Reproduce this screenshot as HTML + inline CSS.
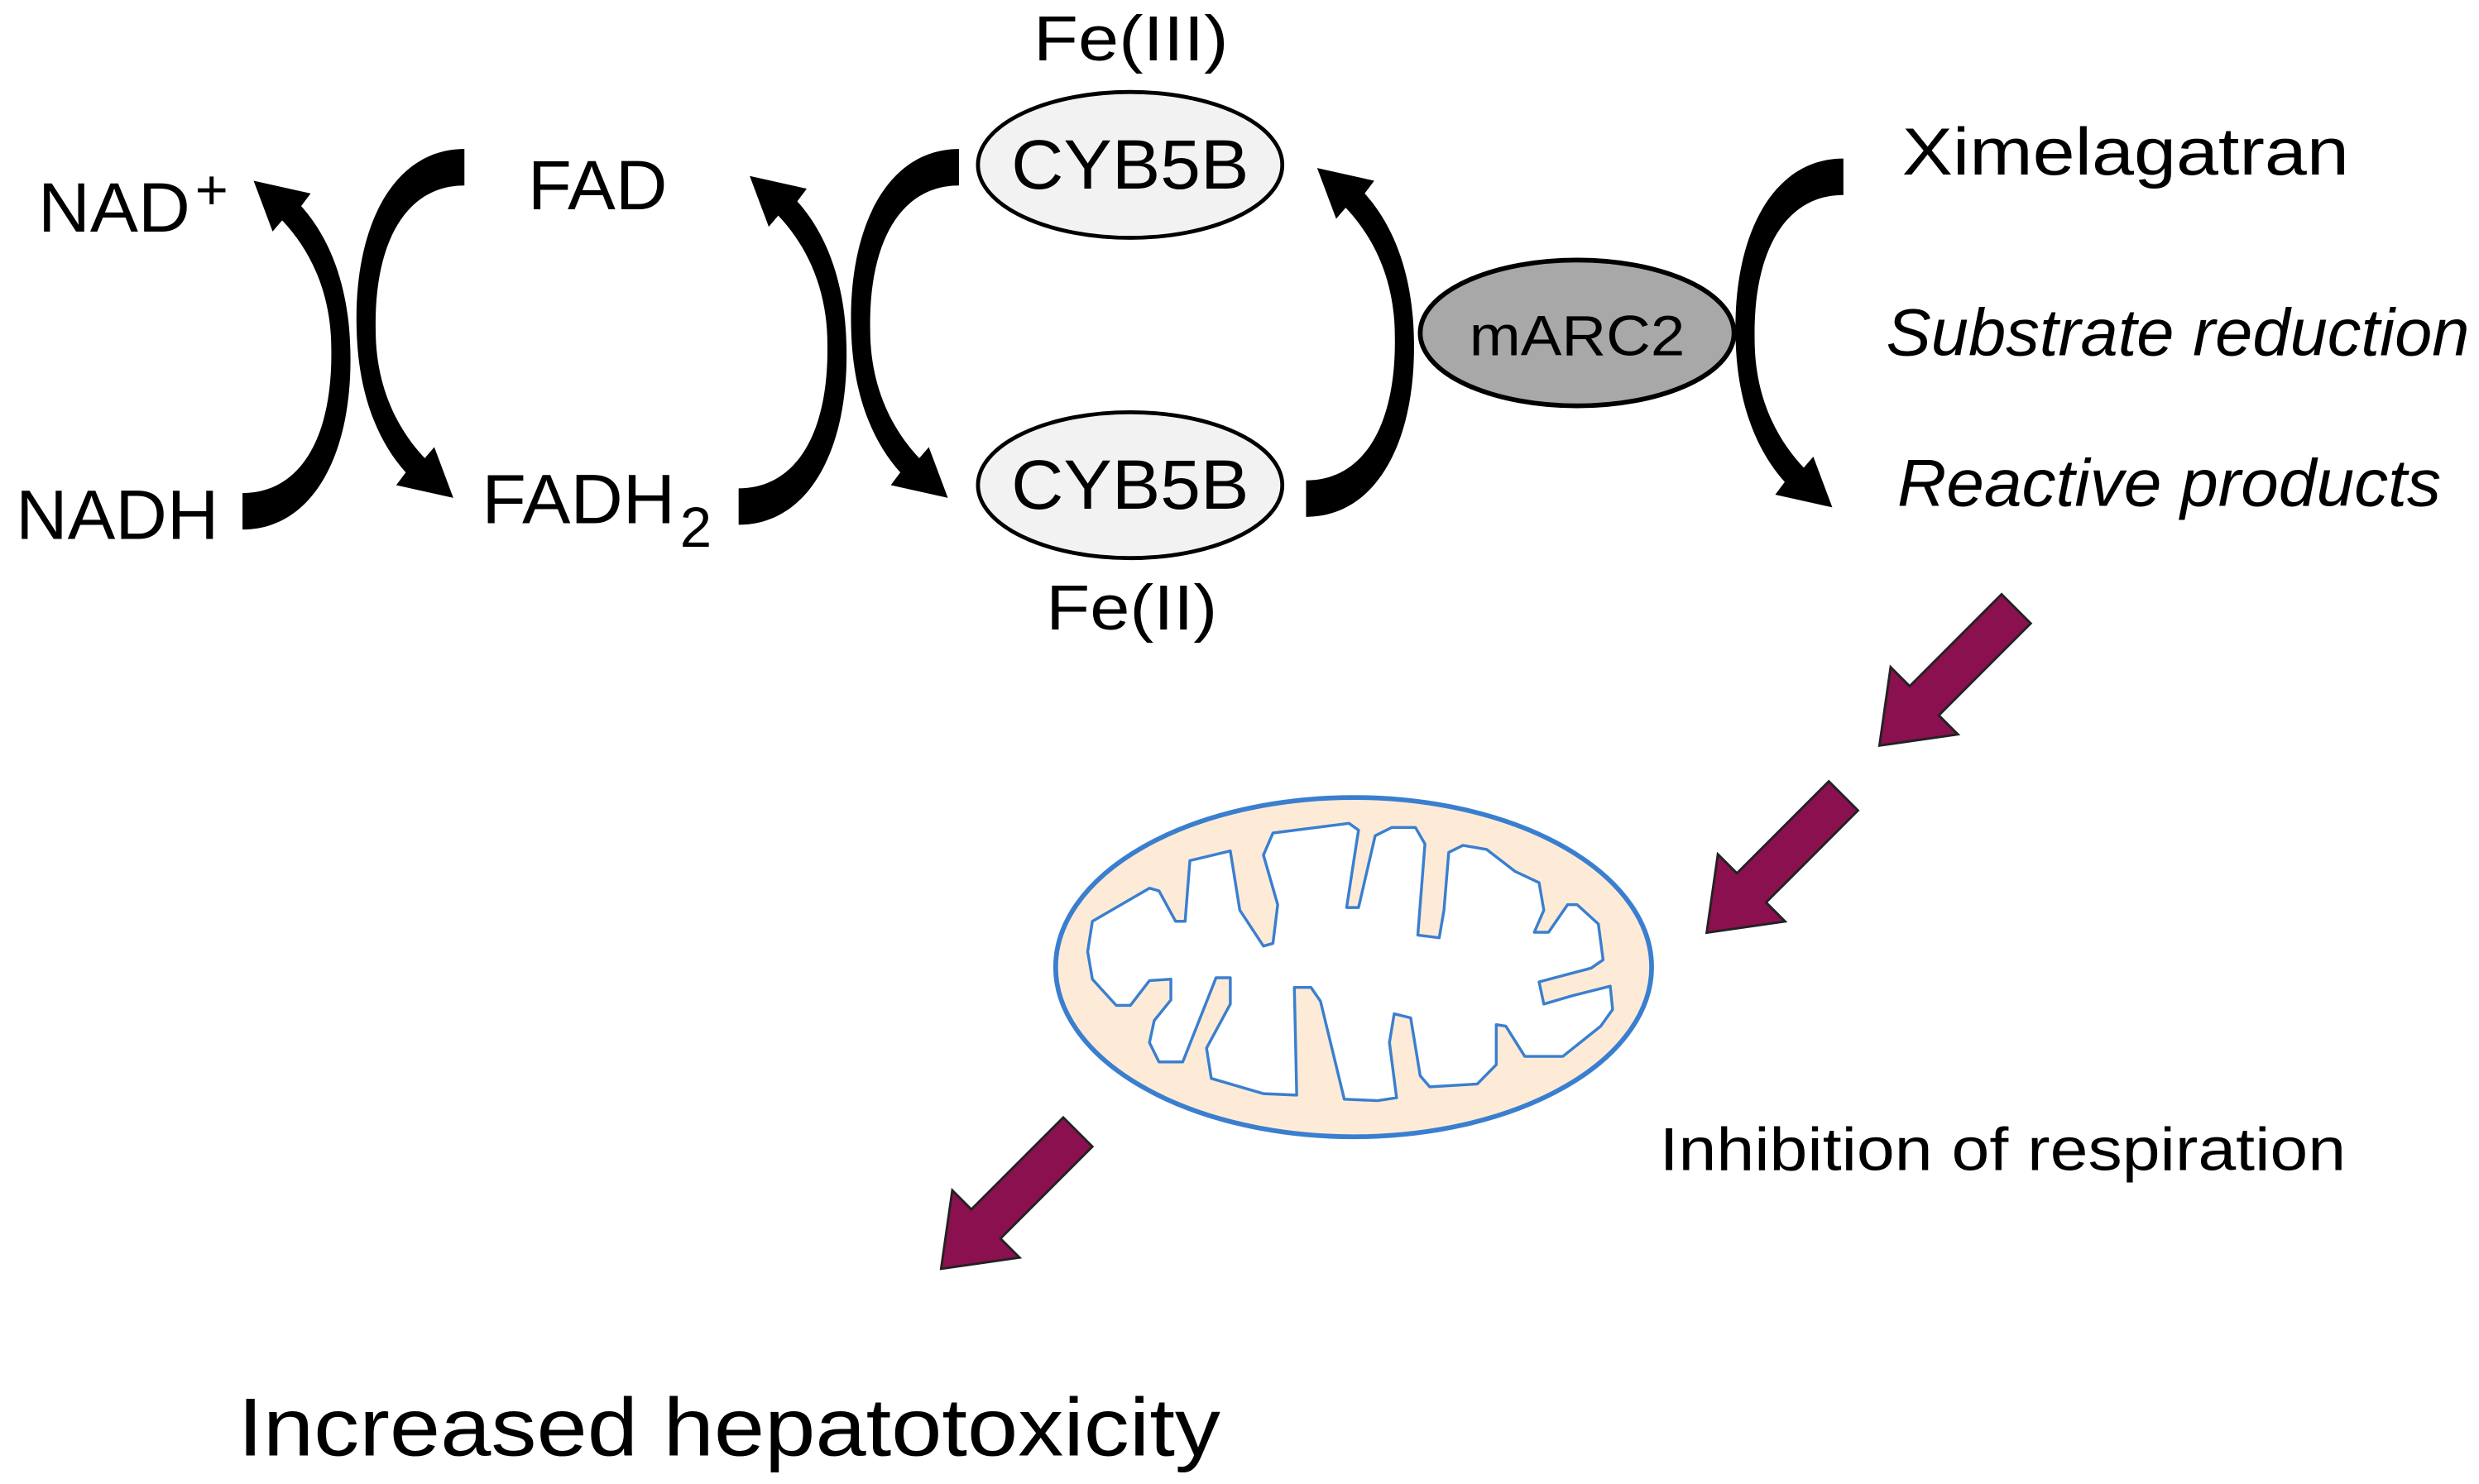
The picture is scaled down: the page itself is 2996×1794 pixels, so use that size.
<!DOCTYPE html>
<html><head><meta charset="utf-8"><style>
html,body{margin:0;padding:0;background:#fff;}
svg{display:block;}
text{font-family:"Liberation Sans",sans-serif;fill:#000;}
</style></head><body>
<svg width="2996" height="1794" viewBox="0 0 1564 936" preserveAspectRatio="none" xmlns="http://www.w3.org/2000/svg">
<defs>
<path id="ca" d="M153,334 C198,334 223,285 221,220 C220,180 208,150 190,130 L196,122 L160,114 L172,146 L178,139 C196,158 209,185 209,220 C210,275 190,311 153,311 Z" fill="#000"/>
</defs>
<!-- pair 1 -->
<use href="#ca"/>
<use href="#ca" transform="rotate(180,223,214)"/>
<!-- pair 2 -->
<use href="#ca" transform="translate(313,-3)"/>
<use href="#ca" transform="rotate(180,535.5,212.5) translate(313,-3)"/>
<!-- pair 3 -->
<use href="#ca" transform="translate(671,-8)"/>
<use href="#ca" transform="rotate(180,993.5,213) translate(671,-8)"/>

<!-- ellipses -->
<ellipse cx="713" cy="104" rx="96" ry="46" fill="#f2f2f2" stroke="#000" stroke-width="2.5"/>
<ellipse cx="713" cy="306" rx="96" ry="46" fill="#f2f2f2" stroke="#000" stroke-width="2.5"/>
<ellipse cx="995" cy="210" rx="99" ry="46" fill="#a8a8a8" stroke="#000" stroke-width="3"/>

<!-- labels -->
<text x="24" y="146" font-size="44" textLength="96" lengthAdjust="spacingAndGlyphs">NAD</text>
<text x="123" y="132" font-size="36">+</text>
<text x="10" y="340" font-size="44" textLength="128" lengthAdjust="spacingAndGlyphs">NADH</text>
<text x="333" y="132" font-size="44" textLength="88" lengthAdjust="spacingAndGlyphs">FAD</text>
<text x="304" y="330" font-size="44" textLength="122" lengthAdjust="spacingAndGlyphs">FADH</text>
<text x="429" y="345" font-size="36">2</text>
<text x="652" y="38" font-size="40" textLength="123" lengthAdjust="spacingAndGlyphs">Fe(III)</text>
<text x="713" y="119" font-size="44" text-anchor="middle" textLength="150" lengthAdjust="spacingAndGlyphs">CYB5B</text>
<text x="713" y="321" font-size="44" text-anchor="middle" textLength="150" lengthAdjust="spacingAndGlyphs">CYB5B</text>
<text x="660" y="397" font-size="40" textLength="108" lengthAdjust="spacingAndGlyphs">Fe(II)</text>
<text x="995" y="224" font-size="36" text-anchor="middle" textLength="136" lengthAdjust="spacingAndGlyphs">mARC2</text>
<text x="1200" y="110" font-size="42" textLength="282" lengthAdjust="spacingAndGlyphs">Ximelagatran</text>
<text x="1190" y="224" font-size="42" font-style="italic" textLength="368" lengthAdjust="spacingAndGlyphs">Substrate reduction</text>
<text x="1197" y="319" font-size="42" font-style="italic" textLength="343" lengthAdjust="spacingAndGlyphs">Reactive products</text>
<text x="1047" y="738" font-size="38" textLength="433" lengthAdjust="spacingAndGlyphs">Inhibition of respiration</text>
<text x="150" y="918" font-size="52" textLength="620" lengthAdjust="spacingAndGlyphs">Increased hepatotoxicity</text>

<!-- purple arrows -->
<g fill="#8b1050" stroke="#222" stroke-width="1.5" stroke-linejoin="miter">
<polygon transform="translate(1272,384) rotate(135)" points="0,-13 82,-13 82,-30 122,0 82,30 82,13 0,13"/>
<polygon transform="translate(1163,502) rotate(135)" points="0,-13 82,-13 82,-30 122,0 82,30 82,13 0,13"/>
<polygon transform="translate(680,714) rotate(135)" points="0,-13 82,-13 82,-30 122,0 82,30 82,13 0,13"/>
</g>

<!-- mitochondrion -->
<ellipse cx="854" cy="610" rx="188" ry="107" fill="#fdebd8" stroke="#3a7fcf" stroke-width="3"/>
<path fill="#fff" stroke="#3a7fcf" stroke-width="1.8" stroke-linejoin="round" stroke-linecap="round" d="M689.2,581.1 L725.2,560.2 L731.2,561.9 L741.7,581.1 L747.7,581.1 L750.7,542.8 L776.2,536.7 L782.2,574.1 L797.1,596.7 L803.1,595 L806.1,570.6 L797.1,539.3 L803.1,525.4 L851.1,519.3 L857.1,523.6 L854.1,542.8 L849.6,572.4 L857.1,572.4 L867.6,527.1 L878.1,521.9 L893,521.9 L899,532.3 L894.5,589.8 L908,591.5 L911,574.1 L914,537.6 L923,533.2 L938,535.8 L956,549.7 L971,556.7 L974,574.1 L968,588 L977,588 L989,570.6 L995,570.6 L1008.4,582.8 L1011.4,605.4 L1003.9,610.6 L971,619.3 L974,633.3 L992,628 L1015.9,622 L1017.4,636.7 L1009.9,647.2 L986,666.3 L962,666.3 L950,647.2 L944,646.3 L944,671.5 L932,683.7 L902,685.5 L896,678.5 L890,642 L879.6,639.4 L876.6,657.6 L881.1,692.4 L869.1,694.2 L848.1,693.3 L833.1,631.5 L827.1,622.8 L816.6,622.8 L818.1,690.7 L797.1,689.8 L764.2,680.2 L761.2,661.1 L776.2,633.3 L776.2,616.7 L767.2,616.7 L746.2,669.8 L731.2,669.8 L725.2,657.6 L728.2,643.7 L738.7,630.7 L738.7,617.6 L725.2,618.5 L713.2,634.1 L704.2,634.1 L689.2,617.6 L686.2,600.2 Z"/>
</svg>
</body></html>
